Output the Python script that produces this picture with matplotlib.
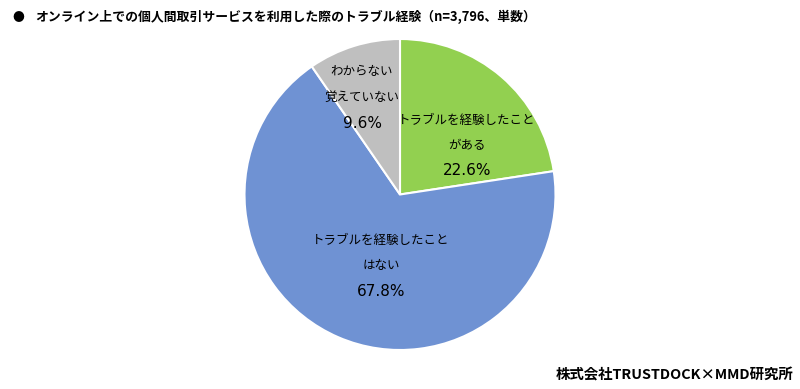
import matplotlib
matplotlib.use("Agg")
import matplotlib.pyplot as plt

plt.rcParams['font.family'] = ['Noto Sans CJK JP', 'DejaVu Sans']

categories = [["トラブルを経験したこと", "がある"], ["トラブルを経験したこと", "はない"], ["わからない", "覚えていない"]]
values = [22.6, 67.8, 9.6]
colors = ["#92D050", "#6F92D3", "#BFBFBF"]
title = "オンライン上での個人間取引サービスを利用した際のトラブル経験（n=3,796、単数）"
source = "株式会社TRUSTDOCK×MMD研究所"

W, H = 800, 389
fig = plt.figure(figsize=(W / 100, H / 100), dpi=100)
cx, cy, r = 400, 194.5, 155.5
ax = fig.add_axes([(cx - r) / W, (H - cy - r) / H, 2 * r / W, 2 * r / H])
wedges, _ = ax.pie(values, colors=colors, startangle=90, counterclock=False,
                   radius=1, wedgeprops=dict(edgecolor="white", linewidth=1.5))
ax.set_xlim(-1, 1)
ax.set_ylim(-1, 1)
ax.set_aspect('equal')
ax.axis('off')

def px(x, y):
    return (x - cx) / r, (cy - y) / r

# label centre x and first line y (pixels)
label_pos = [(467, 120), (381, 240), (362, 72)]
step = 25.5
for cat, v, (x, y0) in zip(categories, values, label_pos):
    for i, line in enumerate(cat):
        ax.text(*px(x, y0 + i * step), line, ha="center", va="center", fontsize=9.0,
                color="#000000")
    ax.text(*px(x, y0 + len(cat) * step), f"{v:.1f}%", ha="center", va="center",
            fontsize=11, family="DejaVu Sans", color="#000000")

fig.text(12 / W, 1 - 17 / H, "●", fontsize=8.5, ha="left", va="center")
fig.text(35 / W, 1 - 17 / H, title, fontsize=9.25, fontweight="bold", ha="left", va="center")
fig.text(793 / W, 1 - 375 / H, source, fontsize=10.4, fontweight="bold", ha="right", va="center")

fig.savefig("out.png", dpi=100)
